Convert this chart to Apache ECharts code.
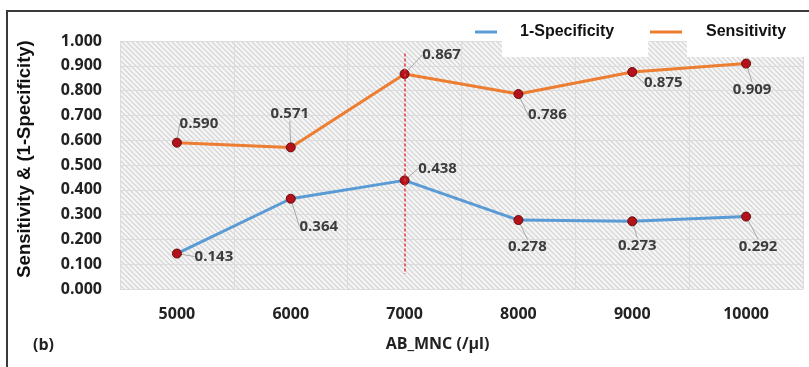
<!DOCTYPE html>
<html><head><meta charset="utf-8">
<script src="https://cdn.jsdelivr.net/npm/echarts@6/dist/echarts.min.js"></script>
<style>html,body{margin:0;padding:0;background:#fff}#c{width:809px;height:367px}</style>
</head><body><div id="c"></div>
<script>
// ---- data ----
const categories = ['5000', '6000', '7000', '8000', '9000', '10000'];
const sensitivity = [0.590, 0.571, 0.867, 0.786, 0.875, 0.909];
const oneMinusSpecificity = [0.143, 0.364, 0.438, 0.278, 0.273, 0.292];
const yMin = 0, yMax = 1, yInterval = 0.1;
const cutoffCategory = '7000';
const cutoffRange = [0.95, 0.06];
const xAxisTitle = 'AB_MNC (/µl)';
const yAxisTitle = 'Sensitivity & (1-Specificity)';
const panelTag = '(b)';

// label placement (offset of each value label from its point, px)
const sensLabelOffsets = [[22, -19], [-1, -34], [37, -19], [29, 21], [31, 11], [6, 26]];
const specLabelOffsets = [[37, 3], [28, 28], [33, -12], [9, 27], [5, 24], [12, 30]];

// hatch pattern for plot background
const P = 10, S = 5;
const pc = document.createElement('canvas');
pc.width = P; pc.height = P;
const g = pc.getContext('2d');
g.fillStyle = '#f6f6f6'; g.fillRect(0, 0, P, P);
g.strokeStyle = '#d6d6d6'; g.lineWidth = 1.3;
g.beginPath();
for (let k = -3; k <= 3; k++) {
  g.moveTo(k * S - 2, -2); g.lineTo(k * S + P + 2, P + 2);
}
g.stroke();

const chart = echarts.init(document.getElementById('c'), null, {renderer: 'canvas'});
const pointStyle = {color: '#b3121a', borderColor: '#6a0a0a', borderWidth: 1};
const labelStyle = {
  show: true, position: 'inside', color: '#3c3c3c',
  fontFamily: 'Open Sans', fontWeight: 'bold', fontSize: 15,
  formatter: p => p.value.toFixed(3)
};
const labelLine = {show: true, lineStyle: {color: '#a8a8a8', width: 1}};
const legendText = (pad) => ({
  fontFamily: 'Liberation Sans', fontWeight: 'bold', fontSize: 16, color: '#111',
  backgroundColor: '#ffffff', padding: pad
});

chart.setOption({
  animation: false,
  backgroundColor: '#ffffff',
  grid: {
    left: 120, right: 6, top: 41, bottom: 78, show: true, borderWidth: 0,
    backgroundColor: {image: pc, repeat: 'repeat'}
  },
  legend: [
    {data: ['1-Specificity'], left: 475, top: 7, padding: 0, icon: 'rect',
     itemWidth: 22, itemHeight: 3, selectedMode: false,
     itemStyle: {color: '#5B9BD5', borderWidth: 0},
     textStyle: legendText([22, 34, 12, 18])},
    {data: ['Sensitivity'], left: 650, top: 7, padding: 0, icon: 'rect',
     itemWidth: 32, itemHeight: 3, selectedMode: false,
     itemStyle: {color: '#ED7D31', borderWidth: 0},
     textStyle: legendText([22, 30, 12, 19])}
  ],
  xAxis: {
    type: 'category', data: categories, boundaryGap: true,
    axisLine: {show: false}, axisTick: {show: false},
    splitLine: {show: true, lineStyle: {color: '#dcdcdc', width: 1}},
    axisLabel: {margin: 17, color: '#222', fontFamily: 'Open Sans', fontWeight: 'bold', fontSize: 16},
    name: xAxisTitle, nameLocation: 'middle', nameGap: 47,
    nameTextStyle: {color: '#222', fontFamily: 'Open Sans', fontWeight: 'bold', fontSize: 16, padding: [0, 48, 0, 0]}
  },
  yAxis: {
    type: 'value', min: yMin, max: yMax, interval: yInterval,
    axisLine: {show: false}, axisTick: {show: false},
    splitLine: {show: true, lineStyle: {color: '#dcdcdc', width: 1}},
    axisLabel: {margin: 18, color: '#222', fontFamily: 'Open Sans', fontWeight: 'bold', fontSize: 16,
      formatter: v => v.toFixed(3)},
    name: yAxisTitle, nameLocation: 'middle', nameRotate: 90, nameGap: 86,
    nameTextStyle: {color: '#111', fontFamily: 'Liberation Sans', fontWeight: 'bold', fontSize: 18.5, padding: [0, 0, 0, 12]}
  },
  series: [
    {
      name: '1-Specificity', type: 'line', data: oneMinusSpecificity,
      symbol: 'circle', symbolSize: 9, z: 3,
      lineStyle: {color: '#5B9BD5', width: 3},
      itemStyle: pointStyle,
      label: labelStyle, labelLine: labelLine,
      labelLayout: p => ({dx: specLabelOffsets[p.dataIndex][0], dy: specLabelOffsets[p.dataIndex][1]})
    },
    {
      name: 'Sensitivity', type: 'line', data: sensitivity,
      symbol: 'circle', symbolSize: 9, z: 3,
      lineStyle: {color: '#ED7D31', width: 3},
      itemStyle: pointStyle,
      label: labelStyle, labelLine: labelLine,
      labelLayout: p => ({dx: sensLabelOffsets[p.dataIndex][0], dy: sensLabelOffsets[p.dataIndex][1]}),
      markLine: {
        silent: true, symbol: ['none', 'none'], label: {show: false},
        lineStyle: {color: '#e23a44', type: [3, 2], width: 1.5},
        data: [[{coord: [cutoffCategory, cutoffRange[0]]}, {coord: [cutoffCategory, cutoffRange[1]]}]]
      }
    }
  ],
  graphic: [
    {type: 'rect', shape: {x: 7, y: 11, width: 900, height: 500},
     style: {fill: null, stroke: '#3a3a3a', lineWidth: 2}, z: 100, silent: true},
    {type: 'text', left: 33, top: 337,
     style: {text: panelTag, font: 'bold 16px "Open Sans"', fill: '#222'}}
  ]
});
</script>
</body></html>
